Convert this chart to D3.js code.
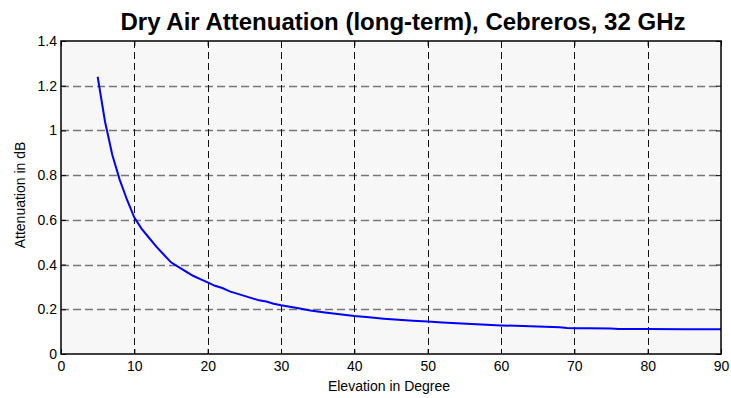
<!DOCTYPE html>
<html>
<head>
<meta charset="utf-8">
<script src="https://cdn.jsdelivr.net/npm/d3@7"></script>
<style>
  body { margin: 0; background: #fff; }
  svg { display: block; font-family: "Liberation Sans", Arial, sans-serif; }
</style>
</head>
<body>
<svg id="chart" width="731" height="398"></svg>
<script>
// elevation (deg) and dry air attenuation (dB)
const elevation = [5, 6, 7, 8, 9, 10, 11, 12, 13, 14, 15, 16, 17, 18, 19, 20,
  21, 22, 23, 24, 25, 26, 27, 28, 29, 30, 32, 34, 36, 38, 40, 42, 44, 46, 48,
  50, 52, 54, 56, 58, 60, 62, 64, 66, 68, 69, 70, 72, 75, 76, 80, 85, 90];
const attenuation = [1.24, 1.04, 0.89, 0.78, 0.69, 0.61, 0.56, 0.52, 0.48, 0.445,
  0.41, 0.39, 0.37, 0.35, 0.335, 0.32, 0.305, 0.295, 0.28, 0.27, 0.26, 0.25,
  0.24, 0.235, 0.225, 0.218, 0.207, 0.195, 0.186, 0.178, 0.17, 0.164, 0.158,
  0.153, 0.149, 0.145, 0.141, 0.137, 0.134, 0.131, 0.128, 0.126, 0.124, 0.122,
  0.12, 0.116, 0.115, 0.115, 0.114, 0.112, 0.112, 0.111, 0.111];
const xTicks = [0, 10, 20, 30, 40, 50, 60, 70, 80, 90];
const yTicks = [0, 0.2, 0.4, 0.6, 0.8, 1, 1.2, 1.4];

const plotL = 61, plotR = 721, plotT = 41, plotB = 354;

const svg = d3.select('#chart');

const x = d3.scaleLinear().domain([0, 90]).range([plotL, plotR]);
const y = d3.scaleLinear().domain([0, 1.4]).range([plotB, plotT]);

svg.append('rect')
  .attr('x', plotL).attr('y', plotT)
  .attr('width', plotR - plotL).attr('height', plotB - plotT)
  .attr('fill', '#f7f7f7');

// grid
svg.append('g').selectAll('line')
  .data(yTicks.slice(1, -1))
  .enter().append('line')
  .attr('x1', plotL).attr('x2', plotR)
  .attr('y1', d => Math.round(y(d)) + 0.5).attr('y2', d => Math.round(y(d)) + 0.5)
  .attr('stroke', '#777').attr('stroke-width', 1.3)
  .attr('stroke-dasharray', '8,4');

svg.append('g').selectAll('line')
  .data(xTicks.slice(1, -1))
  .enter().append('line')
  .attr('y1', plotT).attr('y2', plotB)
  .attr('x1', d => Math.round(x(d)) + 0.5).attr('x2', d => Math.round(x(d)) + 0.5)
  .attr('stroke', '#111').attr('stroke-width', 1)
  .attr('stroke-dasharray', '7,4');

// curve
const line = d3.line()
  .x((d, i) => x(elevation[i]))
  .y(d => y(d));

svg.append('path')
  .attr('d', line(attenuation))
  .attr('fill', 'none')
  .attr('stroke', '#0000ff')
  .attr('stroke-width', 2);

// axes with inward ticks
svg.append('g')
  .attr('transform', 'translate(0,' + plotB + ')')
  .call(d3.axisBottom(x).tickValues(xTicks).tickSizeInner(-5).tickSizeOuter(0).tickPadding(7));
svg.append('g')
  .attr('transform', 'translate(0,' + plotT + ')')
  .call(d3.axisTop(x).tickValues(xTicks).tickSizeInner(-5).tickSizeOuter(0).tickFormat(''));
svg.append('g')
  .attr('transform', 'translate(' + plotL + ',0)')
  .call(d3.axisLeft(y).tickValues(yTicks).tickSizeInner(-5).tickSizeOuter(0).tickPadding(4).tickFormat(d3.format('~g')));
svg.append('g')
  .attr('transform', 'translate(' + plotR + ',0)')
  .call(d3.axisRight(y).tickValues(yTicks).tickSizeInner(-5).tickSizeOuter(0).tickFormat(''));

svg.selectAll('.domain').remove();
svg.selectAll('.tick line').attr('stroke', '#000');
svg.selectAll('.tick text').attr('font-size', 14).attr('fill', '#000')
  .attr('font-family', '"Liberation Sans", Arial, sans-serif');

svg.append('rect')
  .attr('x', plotL).attr('y', plotT)
  .attr('width', plotR - plotL).attr('height', plotB - plotT)
  .attr('fill', 'none').attr('stroke', '#000').attr('stroke-width', 1.5);

// labels
svg.append('text')
  .attr('x', 403).attr('y', 30)
  .attr('text-anchor', 'middle')
  .attr('font-size', 24).attr('font-weight', 'bold')
  .text('Dry Air Attenuation (long-term), Cebreros, 32 GHz');

svg.append('text')
  .attr('x', 389).attr('y', 391)
  .attr('text-anchor', 'middle')
  .attr('font-size', 14)
  .text('Elevation in Degree');

svg.append('text')
  .attr('transform', 'translate(25,195) rotate(-90)')
  .attr('text-anchor', 'middle')
  .attr('font-size', 14)
  .text('Attenuation in dB');
</script>
</body>
</html>
